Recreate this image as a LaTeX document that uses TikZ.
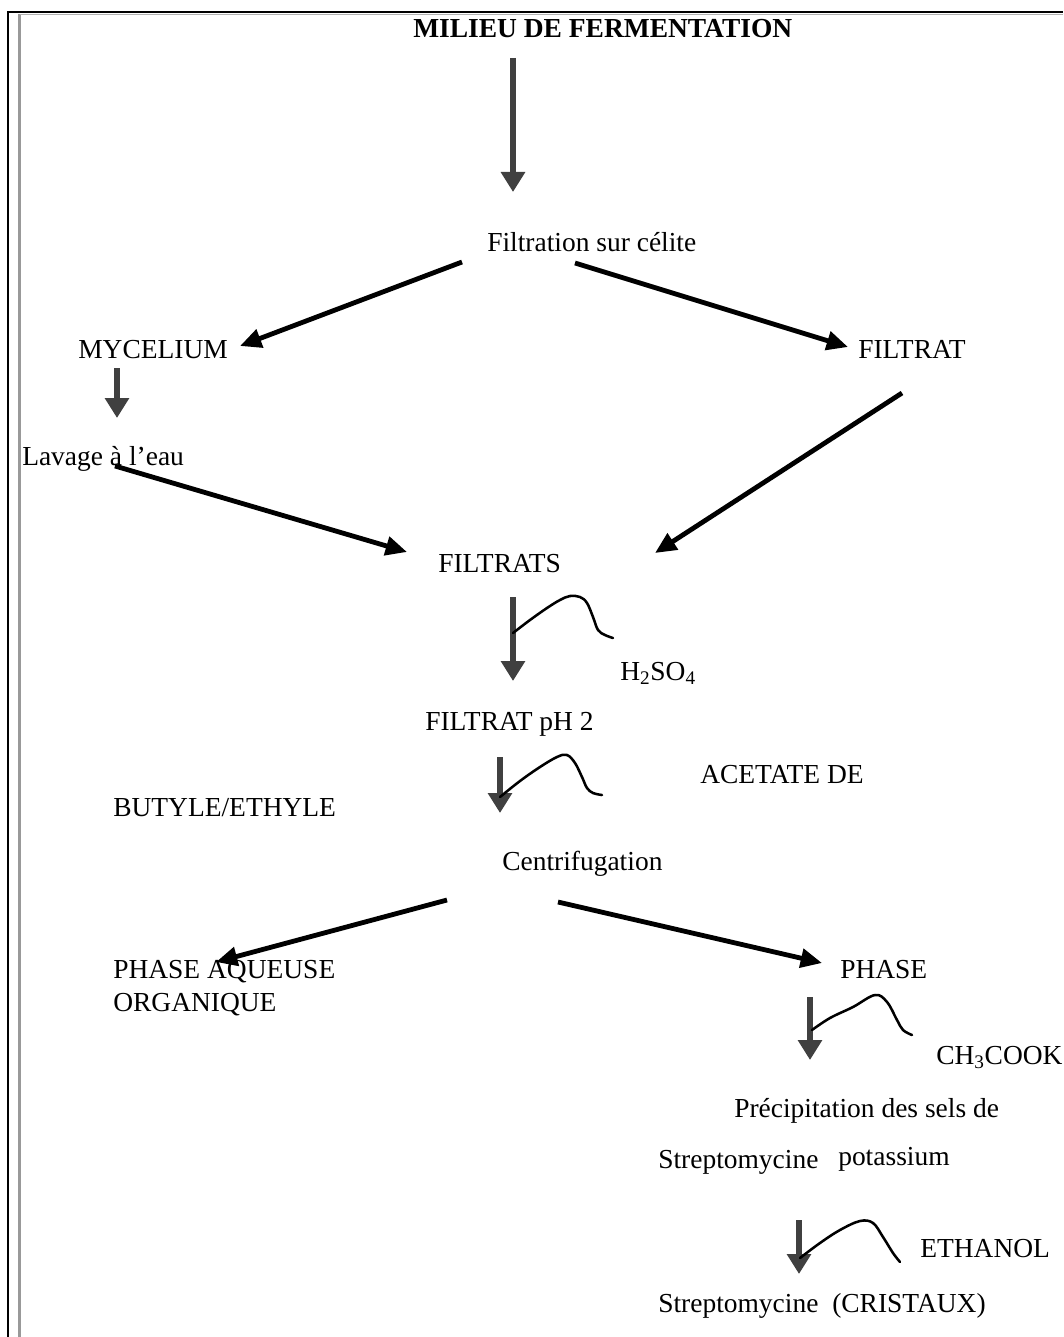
\documentclass[tikz,border=0pt]{standalone}
\usepackage{fontspec}
\setmainfont{Liberation Serif}
\usetikzlibrary{arrows.meta}
\definecolor{arrgray}{HTML}{404040}
\begin{document}
\begin{tikzpicture}[x=0.75pt,y=-0.75pt,
  txt/.style={anchor=base west,inner sep=0pt,font=\fontsize{20.6}{24}\selectfont},
  vArrow/.style={draw=arrgray,line width=5.2pt,-{Triangle[width=17.5pt,length=15pt]},arrgray},
  dArrow/.style={draw=black,line width=3.6pt,-{Triangle[width=14pt,length=16pt]}},
  hand/.style={draw=black,line width=1.9pt,line cap=round,line join=round}]
\useasboundingbox (0,0) rectangle (1063,1337);
% frame
\draw[black,line width=1.4pt] (8,1337) -- (8,12) -- (1063,12);
\draw[black!40,line width=2.4pt] (19.5,1337) -- (19.5,14);
\draw[black!30,line width=0.8pt] (19.5,14.5) -- (1063,14.5);

% texts
\node[txt,font=\fontsize{20.6}{24}\selectfont\bfseries] (title) at (413,38) {MILIEU DE FERMENTATION};
\node[txt] (filt) at (487,252) {Filtration sur célite};
\node[txt] (myc) at (78,358) {MYCELIUM};
\node[txt] (filtrat) at (858,358) {FILTRAT};
\node[txt] (lav) at (22,465) {Lavage à l'eau};
\node[txt] (filtrats) at (438,572) {FILTRATS};
\node[txt] (h2so4) at (620,680) {H\textsubscript{2}SO\textsubscript{4}};
\node[txt] (ph2) at (425,730) {FILTRAT pH 2};
\node[txt] (acet) at (700,783) {ACETATE DE};
\node[txt] (buty) at (113,816) {BUTYLE/ETHYLE};
\node[txt] (centri) at (502,870) {Centrifugation};
\node[txt] (aq) at (113,978) {PHASE AQUEUSE};
\node[txt] (org) at (113,1011) {ORGANIQUE};
\node[txt] (phase) at (840,978) {PHASE};
\node[txt] (ch3) at (936,1064) {CH\textsubscript{3}COOK};
\node[txt] (prec) at (734,1117) {Précipitation des sels de};
\node[txt] (strep1) at (658,1168) {Streptomycine};
\node[txt] (pot) at (838,1165) {potassium};
\node[txt] (eth) at (920,1257) {ETHANOL};
\node[txt] (strep2) at (658,1312) {Streptomycine};
\node[txt] (crist) at (832,1312) {(CRISTAUX)};

% connector end points
\coordinate (t1) at (513,58);   \coordinate (h1) at (513,192);
\coordinate (fl) at (462,262);  \coordinate (ml) at (240,346);
\coordinate (fr) at (575,263);  \coordinate (mr) at (848,347);
\coordinate (m1) at (117,368);  \coordinate (m2) at (117,418);
\coordinate (l1) at (115,466);  \coordinate (l2) at (407,552);
\coordinate (r1) at (902,393);  \coordinate (r2) at (655,553);
\coordinate (s1) at (513,597);  \coordinate (s2) at (513,681);
\coordinate (p1) at (500,757);  \coordinate (p2) at (500,813);
\coordinate (c1) at (447,900);  \coordinate (c2) at (216,962);
\coordinate (c3) at (558,902);  \coordinate (c4) at (822,963);
\coordinate (k1) at (810,997);  \coordinate (k2) at (810,1060);
\coordinate (e1) at (799,1220); \coordinate (e2) at (799,1274);

% arrows
\draw[vArrow] (t1) -- (h1);
\draw[dArrow] (fl) -- (ml);
\draw[dArrow] (fr) -- (mr);
\draw[vArrow] (m1) -- (m2);
\draw[dArrow] (l1) -- (l2);
\draw[dArrow] (r1) -- (r2);
\draw[vArrow] (s1) -- (s2);
\draw[vArrow] (p1) -- (p2);
\draw[dArrow] (c1) -- (c2);
\draw[dArrow] (c3) -- (c4);
\draw[vArrow] (k1) -- (k2);
\draw[vArrow] (e1) -- (e2);

% hand-drawn additions
\draw[hand] plot[smooth,tension=0.6] coordinates {(513,633) (530,620) (547,608) (560,600) (570,596) (580,597) (587,603) (593,617) (598,630) (605,635) (613,638)};
\draw[hand] plot[smooth,tension=0.6] coordinates {(500,797) (520,781) (540,767) (557,757) (567,755) (575,763) (582,777) (587,788) (593,793) (602,795)};
\draw[hand] plot[smooth,tension=0.6] coordinates {(812,1030) (830,1018) (853,1007) (875,995) (887,1002) (897,1020) (903,1030) (912,1035)};
\draw[hand] plot[smooth,tension=0.6] coordinates {(800,1258) (820,1243) (840,1230) (860,1221) (873,1223) (883,1237) (893,1253) (900,1262)};
\end{tikzpicture}
\end{document}
